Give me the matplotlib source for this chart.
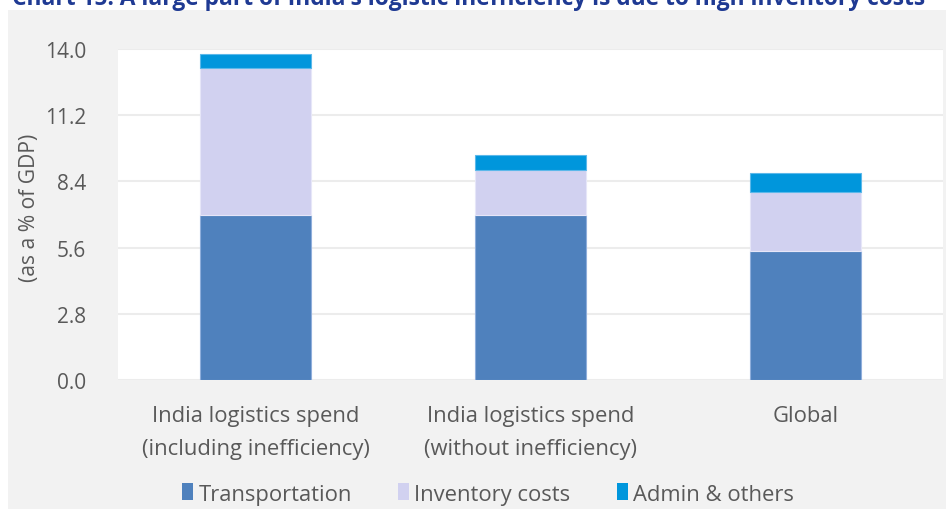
import matplotlib.pyplot as plt
from matplotlib.patches import Rectangle
from matplotlib.patches import Patch

# Logistics cost split, % of GDP
categories = ['India logistics spend\n(including inefficiency)',
              'India logistics spend\n(without inefficiency)',
              'Global']
transportation = [7.0, 7.0, 5.45]
inventory = [6.2, 1.9, 2.5]
admin = [0.6, 0.6, 0.8]
yticks = [0.0, 2.8, 5.6, 8.4, 11.2, 14.0]

c_trans = '#4F81BD'
c_inv = '#D1D1F0'
c_admin = '#0096DC'
txt = '#595959'

plt.rcParams['font.family'] = ['Open Sans', 'DejaVu Sans']

fig = plt.figure(figsize=(9.46, 5.1), dpi=100, facecolor='white')

# grey panel behind the chart
fig.patches.append(Rectangle((8 / 946, 0), 1, 1 - 11 / 510, transform=fig.transFigure,
                             facecolor='#F2F2F2', edgecolor='none', zorder=-10))

# title, partly cut off at the top edge
fig.text(12 / 946, 1 - 5 / 510,
         "Chart 15: A large part of India's logistic inefficiency is due to high inventory costs",
         fontsize=16.4, fontweight='bold', color='#1F3A93', va='baseline', ha='left')

ax = fig.add_axes([118 / 946, 1 - 381 / 510, 825 / 946, 331 / 510])
ax.set_facecolor('white')

x = range(len(categories))
w = 0.407
bottom2 = [t + i for t, i in zip(transportation, inventory)]
ax.bar(x, transportation, w, color=c_trans, edgecolor='#8FAEDB', linewidth=0.8,
       label='Transportation', zorder=3)
ax.bar(x, inventory, w, bottom=transportation, color=c_inv, edgecolor='#E6E6F8',
       linewidth=0.8, label='Inventory costs', zorder=3)
ax.bar(x, admin, w, bottom=bottom2, color=c_admin, edgecolor='#5CB8EA', linewidth=0.8,
       label='Admin & others', zorder=3)

ax.set_xlim(-0.5, 2.5)
ax.set_ylim(0, 14.0)
ax.set_yticks(yticks)
ax.set_yticklabels([f'{v:.1f}' for v in yticks])
ax.set_xticks(list(x))
ax.set_xticklabels(categories)
for lab in ax.get_xticklabels():
    lab.set_linespacing(1.75)
ax.yaxis.grid(True, color='#ECECEC', linewidth=1.5, zorder=0)
ax.set_axisbelow(True)
for s in ax.spines.values():
    s.set_visible(False)
ax.tick_params(axis='y', length=0, pad=23, labelsize=15, labelcolor=txt)
ax.tick_params(axis='x', length=0, pad=18, labelsize=15.8, labelcolor=txt)

fig.text(30 / 946, 1 - 208 / 510, '(as a % of GDP)', rotation=90, fontsize=15.2,
         color=txt, ha='center', va='center')

handles = [Patch(facecolor=c_trans, label='Transportation'),
           Patch(facecolor=c_inv, label='Inventory costs'),
           Patch(facecolor=c_admin, label='Admin & others')]
fig.legend(handles=handles, loc='center', bbox_to_anchor=(488 / 946, 1 - 495 / 510),
           ncol=3, frameon=False, fontsize=15.8, labelcolor=txt,
           handlelength=0.5, handleheight=0.8, handletextpad=0.25, columnspacing=2.1)

fig.savefig('out.png', dpi=100, facecolor=fig.get_facecolor())
